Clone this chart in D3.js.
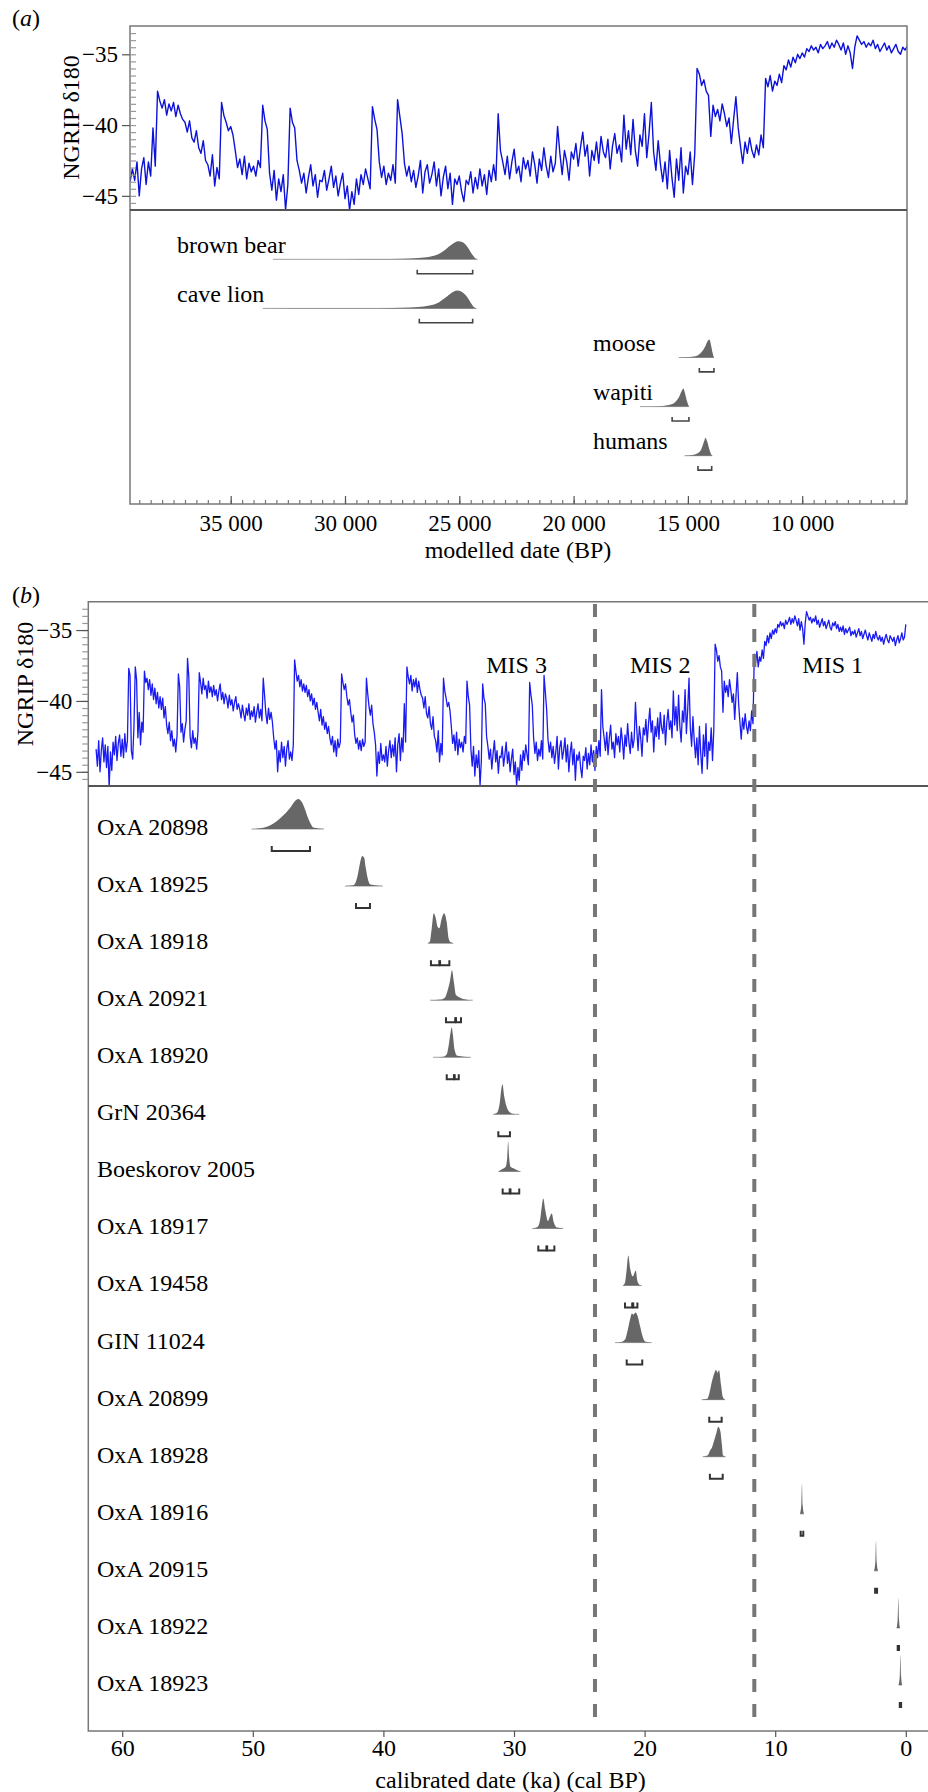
<!DOCTYPE html>
<html><head><meta charset="utf-8">
<script src="https://cdn.jsdelivr.net/npm/d3@7"></script>
<style>body{margin:0;background:#fff} svg{display:block} text{font-family:"Liberation Serif","Times New Roman",Times,serif}</style>
</head><body>
<svg id="chart" width="928" height="1792"></svg>
<script>
// ---------------- DATA ----------------
// NGRIP d18O, older part: chunk k starts at (62 - k) ka, step 0.1 ka
const ngripOld = [
[-43.4,-44.6,-42.8,-45.0,-43.5,-42.6,-44.3,-43.1,-44.7,-43.2],
[-46.1,-43.6,-44.9,-42.9,-43.8,-42.5,-44.2,-43.0,-42.4,-43.9],
[-42.7,-44.0,-42.3,-43.6,-42.8,-37.7,-38.2,-43.5,-44.1,-41.8],
[-37.6,-38.5,-42.6,-40.8,-43.1,-41.5,-42.2,-37.9,-38.7,-38.4],
[-39.2,-38.5,-39.6,-38.8,-39.9,-39.1,-40.2,-39.4,-40.5,-39.7],
[-40.6,-39.8,-41.2,-40.4,-41.7,-42.3,-41.5,-42.8,-42.1,-43.2],
[-42.7,-43.6,-42.4,-38.1,-39.0,-42.2,-41.6,-42.9,-42.0,-41.4],
[-37.0,-38.3,-42.5,-43.3,-42.1,-43.0,-42.6,-43.4,-42.2,-38.0],
[-38.7,-39.5,-38.4,-39.2,-38.9,-39.8,-38.6,-39.4,-39.0,-39.7],
[-38.9,-39.6,-39.2,-40.0,-39.3,-38.8,-39.9,-39.4,-40.2,-39.5],
[-39.8,-40.5,-39.6,-40.3,-39.9,-40.7,-40.1,-39.7,-40.6,-40.2],
[-40.6,-41.2,-40.3,-40.9,-41.4,-40.5,-41.0,-40.2,-41.3,-40.7],
[-41.1,-40.4,-41.5,-40.8,-40.2,-41.2,-40.6,-41.4,-38.4,-39.6],
[-40.9,-41.6,-40.5,-41.3,-40.8,-41.5,-42.6,-43.4,-42.8,-45.0],
[-43.5,-44.3,-42.9,-44.0,-43.2,-44.6,-43.4,-42.8,-44.1,-43.6],
[-44.2,-43.1,-37.1,-37.9,-38.6,-38.2,-39.0,-38.5,-39.3,-38.8],
[-39.4,-38.9,-39.7,-39.2,-40.0,-39.5,-40.3,-39.8,-40.6,-40.1],
[-40.8,-41.4,-40.6,-41.7,-41.1,-42.0,-41.5,-42.3,-41.8,-42.6],
[-43.1,-42.5,-43.6,-42.8,-43.9,-42.7,-43.3,-42.9,-38.1,-38.7],
[-39.2,-38.8,-39.7,-40.3,-39.9,-40.8,-41.5,-41.0,-42.4,-43.0],
[-42.6,-43.4,-42.8,-43.5,-42.7,-43.2,-42.9,-38.4,-39.5,-40.4],
[-41.0,-40.3,-41.6,-42.2,-43.1,-45.3,-43.6,-44.4,-43.0,-44.2]
];
// NGRIP d18O, younger part: chunk k starts at (40 - k) ka, step 0.1 ka
const ngripYoung = [
[-43.8,-44.3,-43.2,-44.6,-43.5,-42.8,-44.0,-43.1,-43.9,-42.6],
[-45.0,-43.1,-42.3,-44.2,-42.6,-43.6,-40.2,-42.9,-37.6,-38.3],
[-38.8,-38.2,-39.3,-38.5,-39.0,-38.4,-39.4,-38.6,-39.2,-39.6],
[-39.8,-40.5,-39.7,-40.9,-41.2,-40.4,-41.6,-42.0,-41.1,-42.5],
[-42.8,-43.6,-42.1,-44.3,-43.0,-43.8,-38.4,-39.3,-39.8,-40.4],
[-40.1,-40.7,-41.8,-43.0,-42.4,-43.5,-42.2,-43.8,-42.7,-43.3],
[-42.9,-43.6,-42.5,-43.0,-38.6,-39.7,-40.3,-43.4,-44.6,-43.2],
[-45.3,-43.8,-44.7,-43.5,-46.0,-44.2,-38.8,-39.8,-40.2,-42.5],
[-43.2,-44.1,-43.4,-44.8,-43.7,-42.8,-44.3,-43.5,-45.1,-43.9],
[-44.0,-43.2,-44.6,-43.8,-42.9,-44.4,-43.6,-45.0,-44.1,-43.4],
[-45.2,-44.3,-46.0,-44.7,-45.6,-43.8,-44.9,-43.5,-44.2,-43.1],
[-43.8,-44.5,-38.7,-39.6,-40.3,-42.6,-43.7,-42.9,-44.2,-43.4],
[-43.9,-42.8,-44.1,-38.2,-39.4,-40.6,-42.7,-43.6,-42.9,-44.0],
[-43.2,-44.4,-43.6,-42.5,-44.8,-43.3,-42.8,-44.1,-43.5,-42.6],
[-44.3,-43.1,-45.0,-43.7,-42.9,-44.5,-43.4,-45.6,-43.8,-44.2],
[-43.6,-44.7,-45.4,-43.9,-44.2,-43.3,-44.8,-43.7,-44.5,-43.1],
[-44.3,-43.5,-44.9,-43.2,-44.0,-42.8,-43.9,-39.2,-41.8,-42.6],
[-43.5,-42.2,-43.8,-42.6,-41.7,-43.4,-42.9,-44.0,-42.3,-43.1],
[-42.5,-43.6,-41.9,-42.8,-44.1,-42.4,-43.2,-41.6,-42.9,-43.7],
[-42.2,-43.3,-42.7,-40.1,-42.0,-43.5,-41.8,-42.6,-43.9,-41.9],
[-42.4,-41.3,-42.9,-41.6,-40.5,-42.2,-41.4,-43.6,-41.8,-42.5],
[-41.2,-42.7,-40.8,-41.9,-42.3,-41.0,-43.1,-41.5,-40.6,-42.0],
[-41.4,-42.6,-39.3,-41.7,-40.4,-42.1,-39.6,-41.8,-42.9,-40.7],
[-41.5,-39.2,-42.3,-40.6,-38.4,-41.9,-43.2,-41.1,-42.8,-44.0],
[-42.6,-44.5,-41.8,-43.7,-45.1,-42.4,-43.9,-41.6,-44.8,-42.9],
[-43.5,-41.9,-44.2,-42.0,-36.0,-36.4,-37.2,-36.8,-37.6,-37.9],
[-40.8,-38.6,-39.4,-38.9,-39.7,-38.5,-39.2,-40.1,-39.5,-41.3],
[-39.6,-38.0,-40.2,-41.5,-42.7,-41.2,-42.0,-40.9,-41.8,-42.3],
[-41.4,-42.1,-40.7,-41.6,-36.7,-37.3,-36.5,-37.6,-36.9,-37.2],
[-36.4,-37.0,-35.8,-36.1,-35.4,-35.9,-35.2,-35.6,-35.0,-35.3],
[-34.9,-35.2,-34.6,-34.8,-34.4,-34.7,-34.5,-34.9,-34.3,-34.6],
[-34.4,-34.1,-34.6,-34.2,-34.5,-34.0,-34.3,-34.7,-34.2,-35.0],
[-34.4,-34.9,-36.0,-34.5,-33.7,-34.0,-34.3,-34.1,-34.5,-34.2],
[-34.4,-34.0,-34.6,-34.3,-34.8,-34.5,-34.2,-34.7,-34.4,-34.9],
[-34.6,-34.3,-34.8,-35.0,-34.5,-34.7,-34.4,-34.9,-34.6,-35.1],
[-34.8,-35.1,-34.7,-35.3,-34.9,-35.2,-35.0,-34.8,-35.4,-35.1],
[-35.3,-35.0,-35.5,-35.2,-34.9,-35.4,-35.1,-35.6,-35.3,-35.0],
[-35.4,-35.7,-35.2,-35.5,-35.8,-35.3,-35.6,-35.1,-35.5,-35.7],
[-35.4,-35.8,-35.5,-36.0,-35.6,-35.3,-35.7,-35.9,-35.4,-35.6],
[-35.8,-35.5,-36.1,-35.7,-35.4,-35.9,-35.6,-35.2,-35.7,-35.5]
];
const ngripLast = -34.6; // value at 0 ka

const yTicks = [-35, -40, -45];
const xTicksA = [35000, 30000, 25000, 20000, 15000, 10000];
const xTicksB = [60, 50, 40, 30, 20, 10, 0];

// Panel (a): species, modelled date densities (years BP, relative density) and ranges
const speciesA = ["brown bear", "cave lion", "moose", "wapiti", "humans"];
const densBrownBear = [[33150,0],[30000,0.004],[28500,0.012],[27500,0.03],[26800,0.07],[26300,0.14],[25900,0.3],[25600,0.55],[25300,0.85],[25050,1.0],[24850,0.95],[24650,0.7],[24450,0.3],[24300,0.06],[24200,0]];
const densCaveLion = [[33600,0],[30500,0.004],[28500,0.015],[27500,0.035],[26800,0.08],[26300,0.16],[25900,0.33],[25600,0.6],[25300,0.9],[25100,1.0],[24900,0.93],[24700,0.7],[24500,0.32],[24350,0.06],[24250,0]];
const densMoose = [[15400,0],[14900,0.03],[14600,0.1],[14400,0.3],[14250,0.6],[14120,0.95],[14060,1.0],[13990,0.7],[13920,0.25],[13860,0]];
const densWapiti = [[17100,0],[16300,0.02],[15900,0.07],[15600,0.2],[15400,0.5],[15260,0.9],[15200,1.0],[15130,0.75],[15040,0.3],[14950,0]];
const densHumans = [[15150,0],[14800,0.04],[14550,0.15],[14400,0.4],[14290,0.8],[14230,1.0],[14160,0.8],[14060,0.35],[13960,0.03],[13930,0]];
const rangesA = [[[26840,24415]], [[26750,24415]], [[14500,13860]], [[15690,14955]], [[14560,13960]]];

// Panel (b): samples, calibrated densities (ka, relative) and ranges
const samplesB = ["OxA 20898","OxA 18925","OxA 18918","OxA 20921","OxA 18920","GrN 20364","Boeskorov 2005","OxA 18917","OxA 19458","GIN 11024","OxA 20899","OxA 18928","OxA 18916","OxA 20915","OxA 18922","OxA 18923"];
const dOxA20898 = [[50.1,0],[49.3,0.03],[48.55,0.15],[47.8,0.4],[47.15,0.7],[46.8,0.92],[46.52,1],[46.25,0.9],[46.0,0.65],[45.8,0.4],[45.6,0.2],[45.37,0.05],[44.55,0]];
const dOxA18925 = [[42.95,0],[42.3,0.03],[42.1,0.15],[41.95,0.4],[41.8,0.75],[41.62,1],[41.48,0.95],[41.35,0.6],[41.2,0.25],[41.0,0.05],[40.05,0]];
const dOxA18918 = [[36.6,0],[36.45,0.05],[36.3,0.5],[36.15,1.0],[36.0,0.85],[35.85,0.55],[35.72,0.5],[35.55,0.8],[35.35,1.0],[35.15,0.7],[35.0,0.15],[34.85,0.03],[34.65,0]];
const dOxA20921 = [[36.43,0],[35.6,0.02],[35.3,0.08],[35.1,0.3],[34.9,0.65],[34.75,1.0],[34.6,0.6],[34.45,0.18],[34.2,0.1],[33.9,0.04],[33.5,0.01],[33.16,0]];
const dOxA18920 = [[36.2,0],[35.4,0.02],[35.15,0.1],[35.0,0.4],[34.85,0.85],[34.77,1.0],[34.68,0.75],[34.55,0.25],[34.35,0.05],[33.3,0]];
const dGrN20364 = [[31.6,0],[31.3,0.05],[31.1,0.35],[30.95,0.9],[30.88,1.0],[30.75,0.6],[30.6,0.3],[30.4,0.1],[30.1,0.02],[29.6,0]];
const dBoeskorov = [[31.2,0],[30.9,0.08],[30.65,0.15],[30.52,0.45],[30.45,1.0],[30.38,0.5],[30.25,0.15],[30.0,0.1],[29.75,0.04],[29.5,0]];
const dOxA18917 = [[28.6,0],[28.2,0.05],[28.0,0.3],[27.85,0.8],[27.76,1.0],[27.6,0.6],[27.4,0.25],[27.25,0.4],[27.11,0.5],[26.95,0.2],[26.7,0.03],[26.23,0]];
const dOxA19458 = [[21.65,0],[21.5,0.1],[21.38,0.5],[21.25,1.0],[21.1,0.55],[20.9,0.3],[20.75,0.45],[20.68,0.5],[20.55,0.15],[20.4,0.03],[20.22,0]];
const dGIN11024 = [[22.27,0],[21.8,0.02],[21.5,0.1],[21.3,0.4],[21.1,0.8],[20.97,0.97],[20.85,0.93],[20.7,1.0],[20.55,0.9],[20.35,0.55],[20.15,0.2],[19.97,0.04],[19.46,0]];
const dOxA20899 = [[15.63,0],[15.2,0.03],[15.05,0.2],[14.85,0.6],[14.65,0.9],[14.53,1.0],[14.42,0.9],[14.3,0.98],[14.15,0.5],[14.0,0.08],[13.84,0]];
const dOxA18928 = [[15.55,0],[15.15,0.05],[15.0,0.2],[14.85,0.3],[14.7,0.5],[14.5,0.8],[14.36,1.0],[14.2,0.85],[14.08,0.4],[14.0,0.05],[13.8,0]];
const dOxA18916 = [[8.1,0],[8.0,0.3],[7.95,1.0],[7.9,0.3],[7.8,0]];
const dOxA20915 = [[2.43,0],[2.33,0.3],[2.28,1.0],[2.23,0.3],[2.13,0]];
const dOxA18922 = [[0.7,0],[0.62,0.3],[0.57,1.0],[0.52,0.3],[0.45,0]];
const dOxA18923 = [[0.55,0],[0.46,0.3],[0.41,1.0],[0.36,0.3],[0.28,0]];
const rangesB = [
  [[48.55,45.62]], [[42.1,41.03]], [[36.36,35.72],[35.66,34.95]], [[35.21,34.5],[34.44,34.06]],
  [[35.15,34.6],[34.54,34.23]], [[31.2,30.31]], [[30.87,30.33],[30.27,29.6]], [[28.14,27.52],[27.46,26.91]],
  [[21.5,20.95],[20.87,20.55]], [[21.37,20.18]], [[15.05,14.1]], [[15.0,14.02]],
  [[8.05,7.85]], [[2.35,2.2]], [[0.62,0.52]], [[0.46,0.36]]
];
const misBounds = [23.8, 11.6];
const misLabels = [["MIS 3", 29.8], ["MIS 2", 18.8], ["MIS 1", 5.6]];

// ---------------- BUILD ----------------
const ngrip = [];
ngripOld.forEach((c, k) => c.forEach((v, j) => ngrip.push({age: 62 - k - j * 0.1, v})));
ngripYoung.forEach((c, k) => c.forEach((v, j) => ngrip.push({age: 40 - k - j * 0.1, v})));
ngrip.push({age: 0, v: ngripLast});

const densA = [densBrownBear, densCaveLion, densMoose, densWapiti, densHumans];
const densB = [dOxA20898,dOxA18925,dOxA18918,dOxA20921,dOxA18920,dGrN20364,dBoeskorov,dOxA18917,dOxA19458,dGIN11024,dOxA20899,dOxA18928,dOxA18916,dOxA20915,dOxA18922,dOxA18923];

const FONT = '"Liberation Serif","Times New Roman",Times,serif';
const svg = d3.select("#chart").attr("font-family", FONT);
const defs = svg.append("defs");

function styleAxis(g, size, col) {
  g.attr("font-family", FONT).attr("font-size", size);
  g.select(".domain").remove();
  g.selectAll(".tick line").attr("stroke", col || "#555").attr("stroke-width", 1.2);
  g.selectAll(".tick text").attr("fill", "#000");
}
function drawDensity(g, pts, xf, base, h) {
  g.append("line").attr("x1", xf(pts[0][0])).attr("x2", xf(pts[pts.length-1][0]))
    .attr("y1", base).attr("y2", base).attr("stroke", "#a0a0a0").attr("stroke-width", 1);
  const area = d3.area().x(d => xf(d[0])).y0(base).y1(d => base - d[1] * h).curve(d3.curveMonotoneX);
  g.append("path").attr("d", area(pts)).attr("fill", "#676767");
}
function drawRanges(g, ranges, xf, y, t, w, col) {
  ranges.forEach(r => {
    const x1 = xf(r[0]), x2 = xf(r[1]);
    g.append("path").attr("d", `M${x1},${y - t}L${x1},${y}L${x2},${y}L${x2},${y - t}`)
      .attr("fill", "none").attr("stroke", col).attr("stroke-width", w);
  });
}
function panelLabel(x, y, letter) {
  const t = svg.append("text").attr("x", x).attr("y", y).attr("dy", "0.35em").attr("font-size", 24);
  t.append("tspan").text("(");
  t.append("tspan").attr("font-style", "italic").text(letter);
  t.append("tspan").text(")");
}

// ===== Panel (a) =====
const xA = d3.scaleLinear().domain([39405, 5416]).range([130, 907]);
const yA = d3.scaleLinear().domain([-46, -33]).range([210, 26]);
defs.append("clipPath").attr("id", "clipA").append("rect").attr("x", 130).attr("y", 26).attr("width", 777).attr("height", 184);

svg.append("path").datum(ngrip.filter(d => d.age <= 39.6 && d.age >= 5.2))
  .attr("clip-path", "url(#clipA)")
  .attr("d", d3.line().x(d => xA(d.age * 1000)).y(d => yA(d.v)))
  .attr("fill", "none").attr("stroke", "#0d12d8").attr("stroke-width", 1.4).attr("stroke-linejoin", "round");

svg.append("rect").attr("x", 130).attr("y", 26).attr("width", 777).attr("height", 478)
  .attr("fill", "none").attr("stroke", "#777").attr("stroke-width", 1.5);
svg.append("line").attr("x1", 130).attr("x2", 907).attr("y1", 210).attr("y2", 210).attr("stroke", "#555").attr("stroke-width", 2);

const gyAm = svg.append("g").attr("transform", "translate(130,0)")
  .call(d3.axisLeft(yA).tickValues(d3.range(-45.5, -33, 0.5)).tickSize(-6).tickFormat(""));
styleAxis(gyAm, 23, "#999");
const gyA = svg.append("g").attr("transform", "translate(130,0)")
  .call(d3.axisLeft(yA).tickValues(yTicks).tickSize(8).tickPadding(4));
styleAxis(gyA, 23);

const gxAm = svg.append("g").attr("transform", "translate(0,504)")
  .call(d3.axisBottom(xA).tickValues(d3.range(39000, 5400, -500)).tickSize(-4).tickFormat(""));
styleAxis(gxAm, 23, "#777");
const gxA = svg.append("g").attr("transform", "translate(0,504)")
  .call(d3.axisBottom(xA).tickValues(xTicksA).tickSize(-8).tickPadding(11)
    .tickFormat(d => d3.format(",")(d).replace(",", " ")));
styleAxis(gxA, 23);

svg.append("text").attr("transform", "translate(70.7,117.5) rotate(-90)").attr("text-anchor", "middle")
  .attr("dy", "0.35em").attr("font-size", 24).text("NGRIP δ180");
svg.append("text").attr("x", 518).attr("y", 550).attr("dy", "0.35em").attr("text-anchor", "middle")
  .attr("font-size", 24).text("modelled date (BP)");
panelLabel(12, 18, "a");

const rowA = d3.scalePoint().domain(speciesA).range([259.3, 455.7]);
const gA = svg.append("g");
speciesA.forEach((s, i) => {
  const base = rowA(s);
  drawDensity(gA, densA[i], d => xA(d), base, 18);
  drawRanges(gA, rangesA[i], d => xA(d), base + 14.4, 4, 1.6, "#444");
  gA.append("text").attr("x", i < 2 ? 177 : 593).attr("y", base - 14.7).attr("dy", "0.35em")
    .attr("font-size", 24).text(s);
});

// ===== Panel (b) =====
const xB = d3.scaleLinear().domain([62.62, -1.7]).range([88, 928]);
const yB = d3.scaleLinear().domain([-46, -33]).range([786, 601.7]);
defs.append("clipPath").attr("id", "clipB").append("rect").attr("x", 88).attr("y", 601.7).attr("width", 840).attr("height", 184.3);

svg.append("path").datum(ngrip)
  .attr("clip-path", "url(#clipB)")
  .attr("d", d3.line().x(d => xB(d.age)).y(d => yB(d.v)))
  .attr("fill", "none").attr("stroke", "#1a1af2").attr("stroke-width", 1.3).attr("stroke-linejoin", "round");

svg.append("path").attr("d", "M928,601.7L88.3,601.7L88.3,1731L928,1731")
  .attr("fill", "none").attr("stroke", "#777").attr("stroke-width", 1.5);
svg.append("line").attr("x1", 88).attr("x2", 928).attr("y1", 786).attr("y2", 786).attr("stroke", "#555").attr("stroke-width", 2);

const gyBm = svg.append("g").attr("transform", "translate(88.3,0)")
  .call(d3.axisLeft(yB).tickValues(d3.range(-45.5, -33, 0.5)).tickSize(6).tickFormat(""));
styleAxis(gyBm, 23, "#999");
const gyB = svg.append("g").attr("transform", "translate(88.3,0)")
  .call(d3.axisLeft(yB).tickValues(yTicks).tickSize(12).tickPadding(4));
styleAxis(gyB, 23);

const gxB = svg.append("g").attr("transform", "translate(0,1731)")
  .call(d3.axisBottom(xB).tickValues(xTicksB).tickSize(6).tickPadding(2));
styleAxis(gxB, 24);

svg.append("text").attr("transform", "translate(25,684) rotate(-90)").attr("text-anchor", "middle")
  .attr("dy", "0.35em").attr("font-size", 24).text("NGRIP δ180");
svg.append("text").attr("x", 510.6).attr("y", 1780).attr("dy", "0.35em").attr("text-anchor", "middle")
  .attr("font-size", 24).text("calibrated date (ka) (cal BP)");
panelLabel(12, 595, "b");

misBounds.forEach(a => {
  svg.append("line").attr("x1", xB(a)).attr("x2", xB(a)).attr("y1", 604).attr("y2", 1721)
    .attr("stroke", "#777").attr("stroke-width", 4).attr("stroke-dasharray", "13,12");
});
misLabels.forEach(m => {
  svg.append("text").attr("x", xB(m[1])).attr("y", 664.3).attr("dy", "0.35em").attr("text-anchor", "middle")
    .attr("font-size", 24).text(m[0]);
});

const rowB = d3.scalePoint().domain(samplesB).range([829, 1685]);
const gB = svg.append("g");
samplesB.forEach((s, i) => {
  const base = rowB(s);
  drawDensity(gB, densB[i], d => xB(d), base, 30);
  drawRanges(gB, rangesB[i], d => xB(d), base + 22, 5, 2, "#333");
  gB.append("text").attr("x", 97).attr("y", base - 2.5).attr("dy", "0.35em").attr("font-size", 24).text(s);
});
</script>
</body></html>
